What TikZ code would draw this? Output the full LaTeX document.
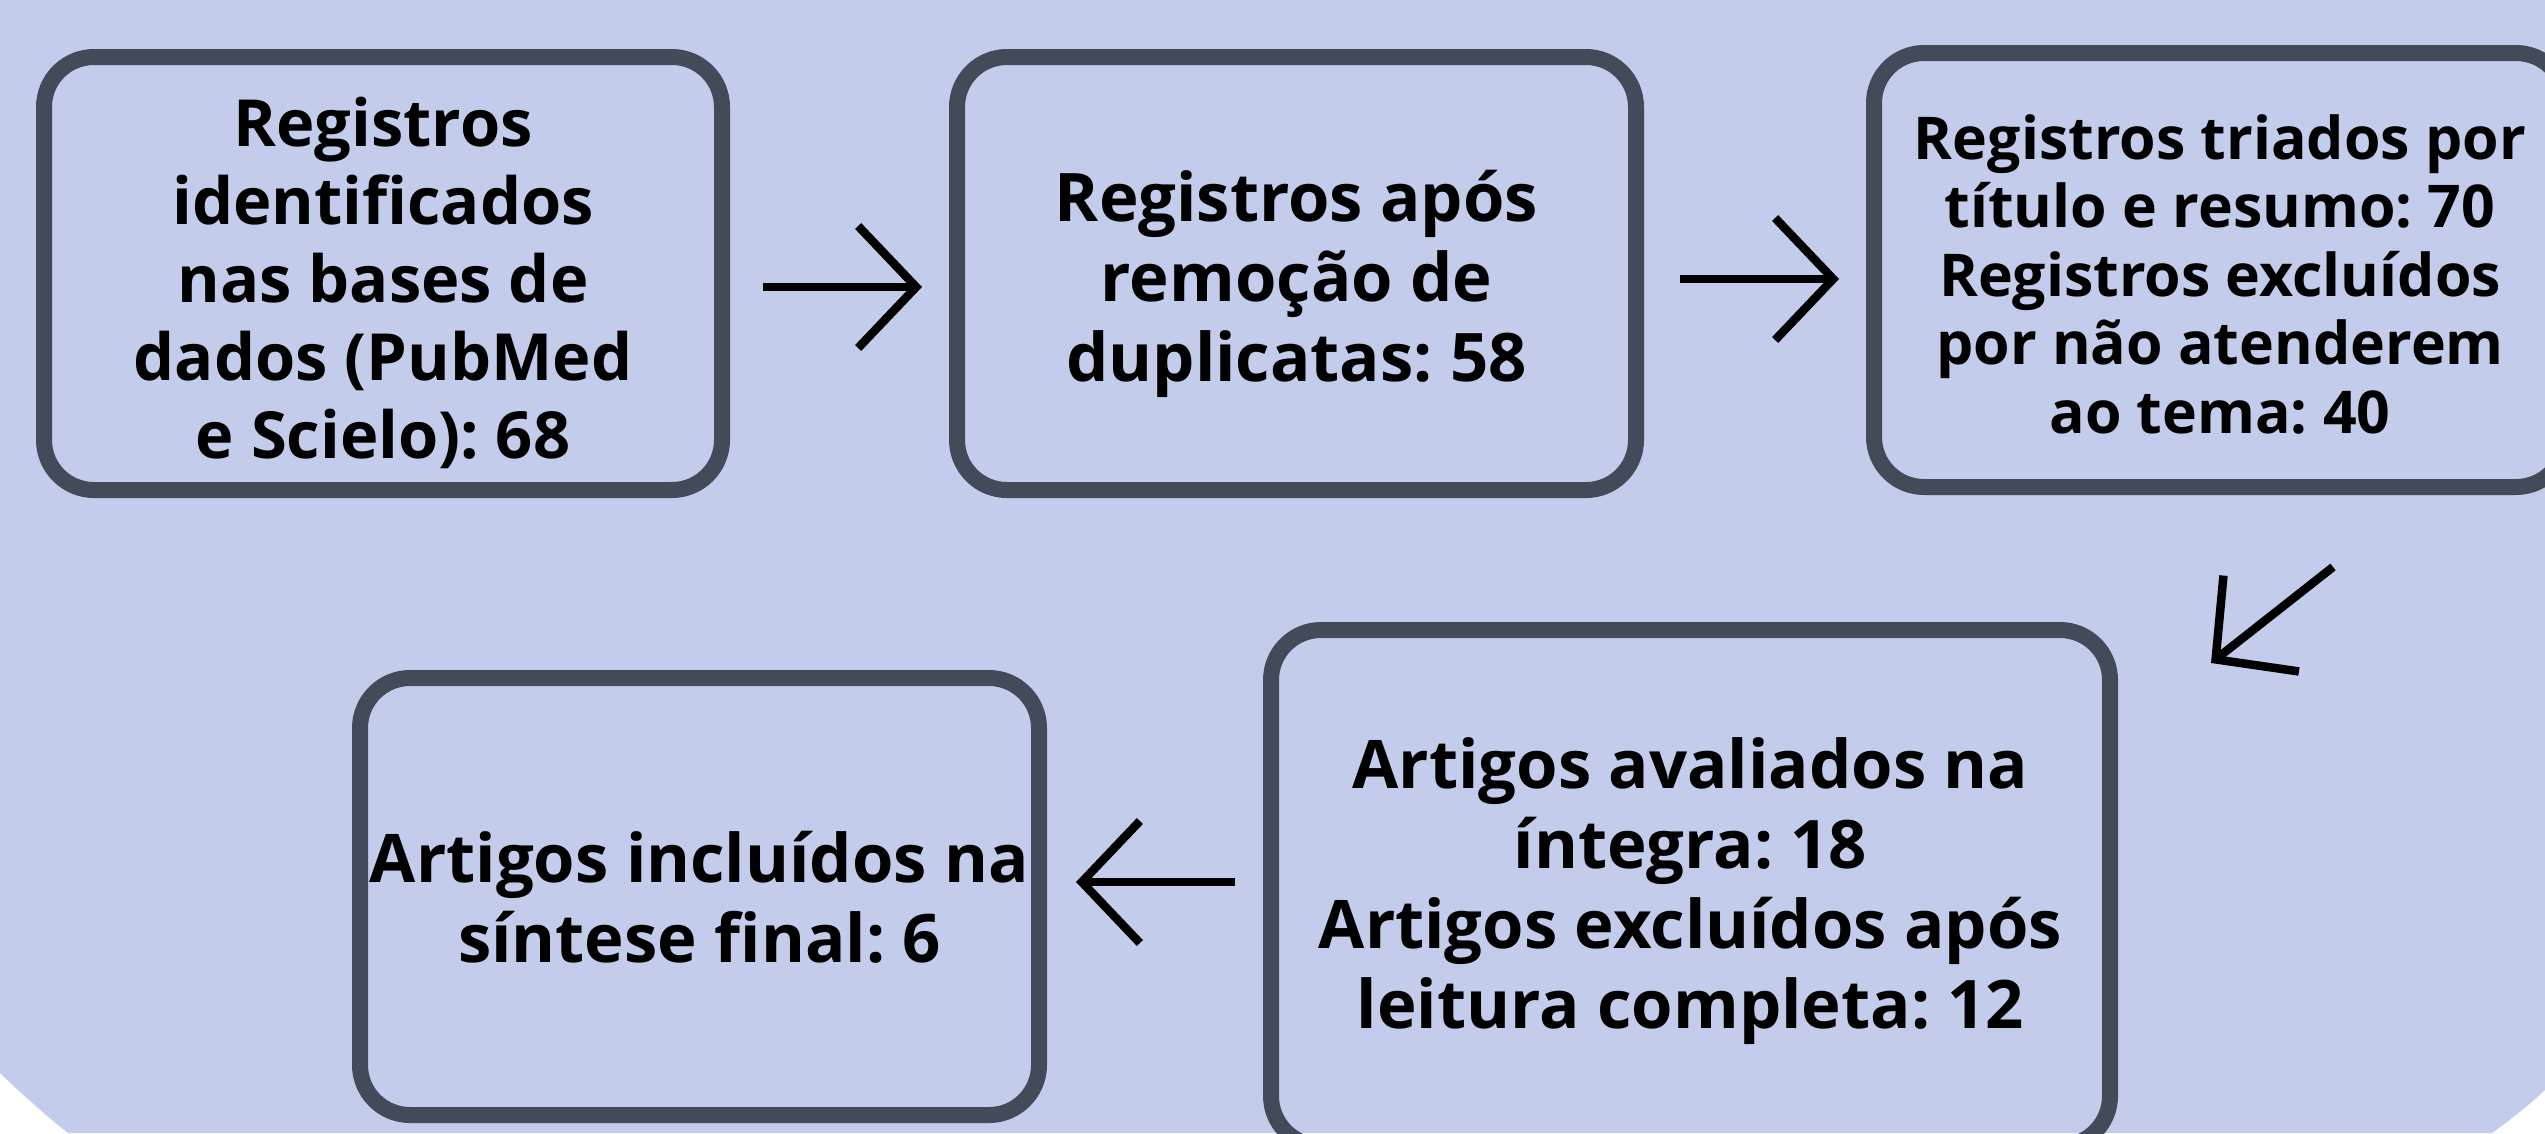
\documentclass[tikz,border=0pt]{standalone}
\usepackage{fontspec}
\setmainfont{Open Sans}
\usetikzlibrary{arrows.meta}
\definecolor{bgblue}{HTML}{C3CDEB}
\definecolor{frame}{HTML}{434A59}
\begin{document}
\frenchspacing
\begin{tikzpicture}[x=1pt,y=-1pt,
  box/.style={draw=frame, line width=16pt, rounded corners=50pt, inner sep=0pt},
  txt/.style={align=center, inner sep=0pt, font=\fontsize{67}{80}\selectfont\bfseries},
  conn/.style={line width=8.5pt, -{Straight Barb[length=58pt,width=122pt]}}]
\clip (0,0) rectangle (2545,1133);
\fill[white] (0,0) rectangle (2545,1133);
\fill[bgblue] (0,0) -- (2545,0) -- (2545,1090) .. controls (2528,1106) and (2510,1120) .. (2492,1133)
  -- (68,1133) .. controls (44,1114) and (22,1094) .. (0,1073) -- cycle;
\node[box, minimum width=678pt, minimum height=433pt] (b1) at (383,273.5) {};
\node[box, minimum width=679pt, minimum height=433pt] (b2) at (1296.5,273.5) {};
\node[box, minimum width=692pt, minimum height=434pt] (b3) at (2220,270) {};
\node[box, minimum width=839pt, minimum height=516pt] (b4) at (1690.5,888) {};
\node[box, minimum width=679pt, minimum height=437pt] (b5) at (699.5,896.5) {};
\node[txt, font=\fontsize{65}{78}\selectfont\bfseries] (t1) at ([yshift=-9pt]b1.center)
  {Registros\\identificados\\nas bases de\\dados (PubMed\\e Scielo): 68};
\node[txt] (t2) at ([yshift=-10pt]b2.center)
  {Registros após\\remoção de\\duplicatas: 58};
\node[txt, font=\fontsize{59}{68.5}\selectfont\bfseries] (t3) at ([yshift=-4pt]b3.center)
  {Registros triados por\\título e resumo: 70\\Registros excluídos\\por não atenderem\\ao tema: 40};
\node[txt] (t4) at ([yshift=-3pt]b4.center)
  {Artigos avaliados na\\íntegra: 18\\Artigos excluídos após\\leitura completa: 12};
\node[txt] (t5) at ([yshift=-1pt]b5.center)
  {Artigos incluídos na\\síntese final: 6};
\coordinate (a1s) at (763,287); \coordinate (a1e) at (922,287);
\coordinate (a2s) at (1680,279); \coordinate (a2e) at (1839,279);
\coordinate (a3s) at (2333,567); \coordinate (a3e) at (2211,663);
\coordinate (a4s) at (1235,882); \coordinate (a4e) at (1076,882);
\draw[conn] (a1s) -- (a1e);
\draw[conn] (a2s) -- (a2e);
\draw[conn] (a3s) -- (a3e);
\draw[conn] (a4s) -- (a4e);
\end{tikzpicture}
\end{document}
